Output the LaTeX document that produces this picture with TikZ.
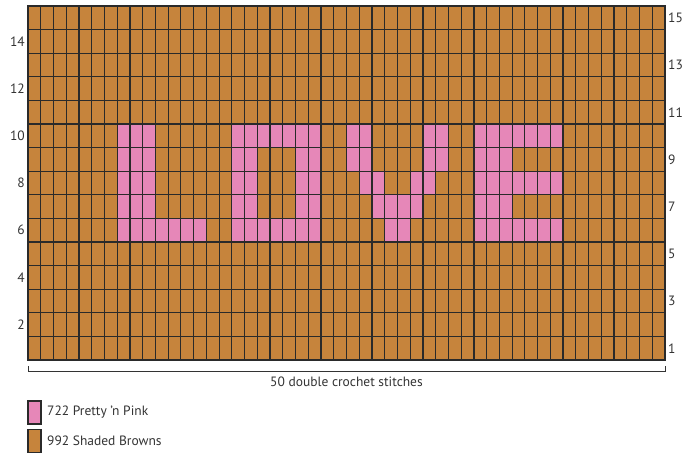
\documentclass[tikz,border=0pt]{standalone}
\usepackage{fontspec}
\setmainfont{PT Sans}
\definecolor{brownc}{HTML}{C6843C}
\definecolor{pinkc}{HTML}{E687B8}
\definecolor{gridc}{HTML}{2A2A2A}
\definecolor{txtc}{HTML}{333333}
\newcommand{\pkrow}[3]{\fill[pinkc] ({28+12.74*#2},{6+23.6*(15-#1)}) rectangle ({28+12.74*(#3+1)},{6+23.6*(16-#1)});}
\begin{document}
\begin{tikzpicture}[x=1pt,y=-1pt,
  gridline/.style={draw=gridc,line width=1.2pt},
  lbl/.style={font=\fontsize{13.5}{15}\selectfont,text=txtc,inner sep=0pt},
  keybox/.style={draw=gridc,line width=1.2pt,minimum width=13pt,minimum height=23pt,inner sep=0pt}]
\useasboundingbox (0,0) rectangle (692,455);
% background of grid
\fill[brownc] (28,6) rectangle (665,360);
% L
\foreach \r in {10,9,8,7} {\pkrow{\r}{7}{9}}
\pkrow{6}{7}{13}
% O
\pkrow{10}{16}{22}
\pkrow{6}{16}{22}
\foreach \r in {9,8,7} {\pkrow{\r}{16}{17}\pkrow{\r}{21}{22}}
% V
\foreach \r in {10,9} {\pkrow{\r}{25}{26}\pkrow{\r}{31}{32}}
\pkrow{8}{26}{27}\pkrow{8}{30}{31}
\pkrow{7}{27}{30}
\pkrow{6}{28}{29}
% E
\foreach \r in {10,8,6} {\pkrow{\r}{35}{41}}
\foreach \r in {9,7} {\pkrow{\r}{35}{37}}
% grid lines
\foreach \i in {0,...,50} {\draw[gridline] ({28+12.74*\i},6) -- ({28+12.74*\i},360);}
\foreach \j in {0,...,15} {\draw[gridline] (27.4,{6+23.6*\j}) -- (665.6,{6+23.6*\j});}
% row labels
\foreach \r in {2,4,...,14} {\node[lbl,anchor=east] (L\r) at (25,{6+23.6*(15-\r)+11.8}) {\r};}
\foreach \r in {1,3,...,15} {\node[lbl,anchor=west] (R\r) at (668,{6+23.6*(15-\r)+11.8}) {\r};}
% bracket
\coordinate (bl) at (28,366);
\coordinate (br) at (665,366);
\draw[draw=txtc,line width=1pt] (bl) -- ++(0,5) -| (br);
\node[lbl] (stitches) at (346.5,381.5) {50 double crochet stitches};
% legend
\node[keybox,fill=pinkc] (kp) at (34.5,412.5) {};
\node[keybox,fill=brownc] (kb) at (34.5,441) {};
\node[lbl,anchor=west] (tp) at (47,412) {722 Pretty ’n Pink};
\node[lbl,anchor=west] (tb) at (47,440.5) {992 Shaded Browns};
\end{tikzpicture}
\end{document}
